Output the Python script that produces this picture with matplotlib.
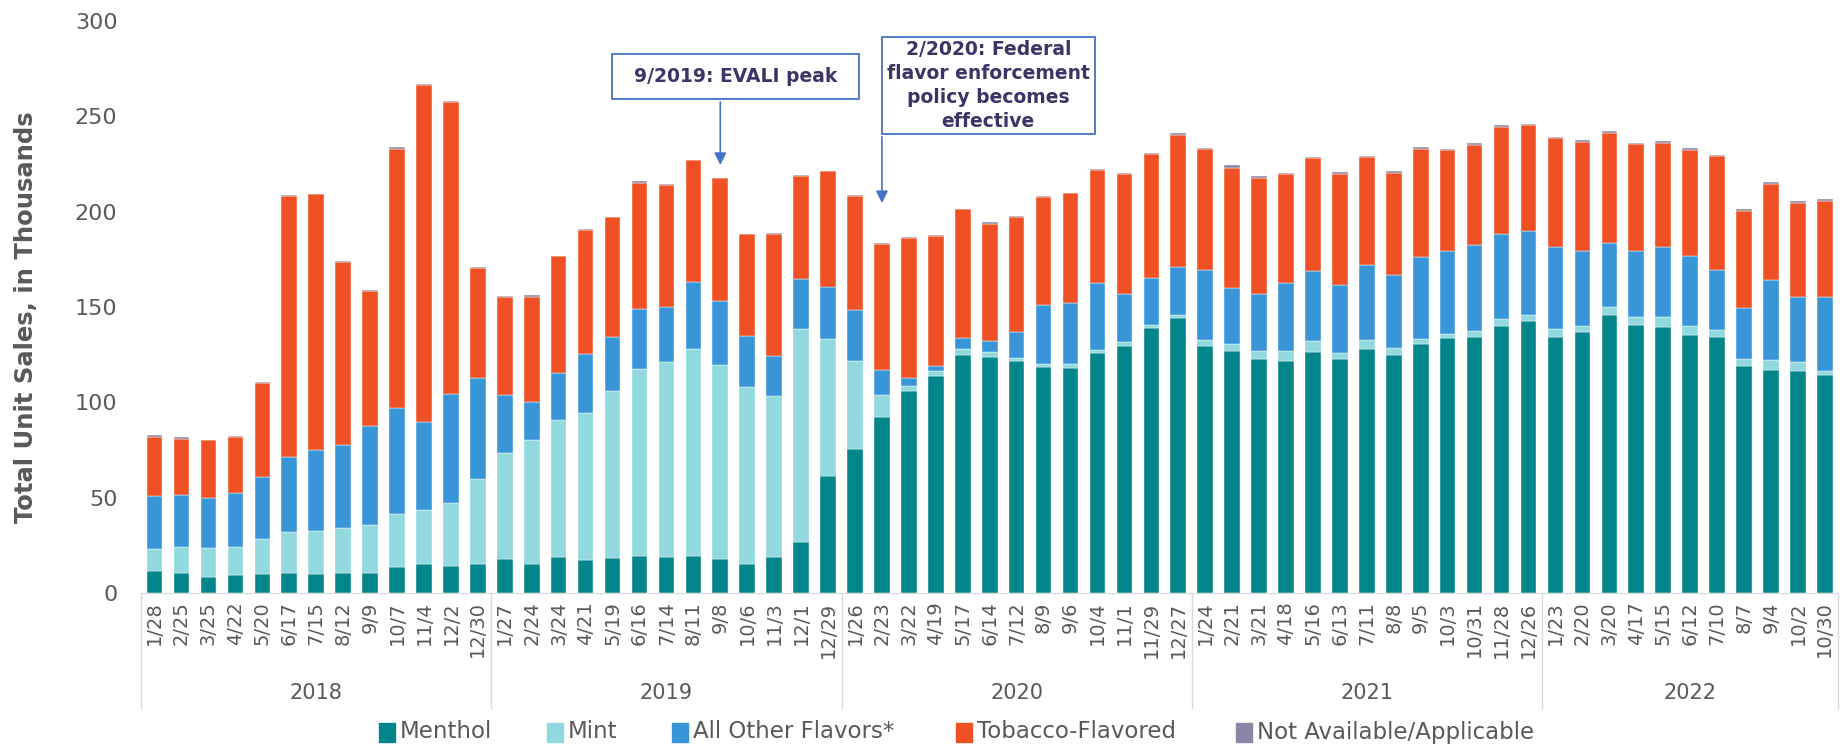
import matplotlib
matplotlib.use("Agg")
import matplotlib.pyplot as plt
from matplotlib.patches import Rectangle
import numpy as np

# week labels, grouped by year
years = ["2018", "2019", "2020", "2021", "2022"]
weeks_2018 = ["1/28", "2/25", "3/25", "4/22", "5/20", "6/17", "7/15", "8/12", "9/9", "10/7", "11/4", "12/2", "12/30"]
weeks_2019 = ["1/27", "2/24", "3/24", "4/21", "5/19", "6/16", "7/14", "8/11", "9/8", "10/6", "11/3", "12/1", "12/29"]
weeks_2020 = ["1/26", "2/23", "3/22", "4/19", "5/17", "6/14", "7/12", "8/9", "9/6", "10/4", "11/1", "11/29", "12/27"]
weeks_2021 = ["1/24", "2/21", "3/21", "4/18", "5/16", "6/13", "7/11", "8/8", "9/5", "10/3", "10/31", "11/28", "12/26"]
weeks_2022 = ["1/23", "2/20", "3/20", "4/17", "5/15", "6/12", "7/10", "8/7", "9/4", "10/2", "10/30"]
week_groups = [weeks_2018, weeks_2019, weeks_2020, weeks_2021, weeks_2022]

# unit sales, thousands
menthol = [11.4, 10.6, 8.5, 9.4, 9.8, 10.4, 10.0, 10.4, 10.6, 13.5, 15.4, 14.4, 15.4,
           17.9, 15.2, 18.9, 17.5, 18.3, 19.3, 18.7, 19.3, 17.9, 15.4, 19.1, 26.8, 61.6,
           75.7, 92.2, 106.1, 113.8, 125.0, 124.0, 121.7, 118.4, 118.0, 125.9, 129.6, 139.0, 144.4,
           129.8, 127.1, 122.7, 121.5, 126.4, 122.5, 128.1, 124.8, 130.4, 133.6, 134.2, 140.2, 142.9,
           134.4, 137.1, 145.8, 140.6, 139.6, 135.4, 134.0, 119.0, 116.9, 116.5, 114.4]
mint = [11.7, 13.5, 15.0, 14.9, 18.5, 21.6, 22.7, 23.9, 25.0, 28.1, 28.1, 32.8, 44.5,
        55.5, 64.9, 71.6, 76.7, 87.6, 98.2, 102.2, 108.6, 101.9, 92.8, 84.3, 111.7, 71.7,
        46.2, 11.8, 2.7, 2.5, 3.1, 2.3, 1.5, 1.6, 2.2, 1.6, 2.3, 1.4, 1.2,
        3.1, 3.3, 4.4, 5.2, 6.0, 3.6, 4.4, 3.6, 2.7, 2.0, 3.1, 3.3, 2.7,
        3.9, 3.1, 4.0, 4.4, 5.0, 4.6, 3.9, 3.9, 5.4, 4.4, 2.1]
other_flavors = [27.7, 27.1, 26.4, 28.3, 32.7, 39.4, 42.2, 43.1, 52.2, 55.3, 46.0, 57.4, 53.1,
                 30.2, 20.2, 25.0, 31.0, 28.3, 31.2, 29.3, 35.2, 33.5, 26.8, 21.0, 26.3, 27.3,
                 26.6, 12.9, 4.0, 2.5, 5.5, 6.0, 13.5, 31.0, 31.8, 35.0, 25.0, 24.8, 25.4,
                 36.4, 29.8, 29.8, 35.8, 36.5, 35.5, 39.5, 38.2, 43.3, 43.5, 45.1, 44.8, 44.3,
                 42.9, 39.1, 33.7, 34.5, 36.8, 36.8, 31.4, 26.7, 42.0, 34.5, 38.9]
tobacco = [31.0, 29.7, 30.2, 29.2, 49.3, 136.8, 134.1, 96.3, 70.7, 136.1, 177.0, 153.1, 57.4,
           51.8, 55.1, 61.1, 65.4, 62.8, 66.4, 63.7, 63.9, 64.1, 53.1, 64.1, 54.0, 60.5,
           59.9, 66.2, 73.4, 68.4, 67.6, 61.4, 60.3, 56.6, 57.7, 59.3, 62.6, 64.9, 69.3,
           63.3, 62.8, 60.5, 57.2, 59.0, 58.1, 56.6, 53.9, 56.6, 53.1, 52.7, 56.3, 55.4,
           57.4, 57.2, 57.8, 56.0, 54.7, 55.6, 59.7, 50.9, 50.4, 49.3, 50.1]
not_available = [1.0, 1.1, 0.3, 0.3, 0.3, 0.4, 0.4, 0.3, 0.3, 1.0, 0.4, 0.4, 0.3,
                 0.3, 0.8, 0.3, 0.3, 0.3, 0.9, 0.6, 0.3, 0.3, 0.3, 0.3, 0.3, 0.3,
                 0.3, 0.3, 0.3, 0.3, 0.3, 0.8, 0.8, 0.8, 0.3, 0.8, 0.8, 0.8, 1.0,
                 1.0, 1.3, 1.2, 0.8, 0.8, 1.0, 0.7, 0.8, 0.8, 0.8, 0.8, 0.9, 0.8,
                 0.4, 0.9, 1.1, 0.3, 0.8, 0.8, 0.9, 1.1, 0.8, 1.0, 1.1]

series_names = ["Menthol", "Mint", "All Other Flavors*", "Tobacco-Flavored", "Not Available/Applicable"]
colors = ["#02868B", "#91D9DE", "#3896D8", "#F05124", "#8C86A6"]

week_labels = [w for g in week_groups for w in g]
x = np.arange(len(week_labels))

fig = plt.figure(figsize=(18.42, 7.46), dpi=100)
ax = fig.add_axes([0.0766, 0.205, 0.9214, 0.767])

bottom = np.zeros(len(x))
for vals, c in zip([menthol, mint, other_flavors, tobacco, not_available], colors):
    ax.bar(x, vals, 0.58, bottom=bottom, color=c, edgecolor="white", linewidth=0.3)
    bottom += np.array(vals)

ax.set_xlim(-0.5, len(x) - 0.5)
ax.set_ylim(0, 300)
ax.set_yticks(range(0, 301, 50))
ax.tick_params(axis="y", length=0, labelsize=16, labelcolor="#595959", pad=17)
ax.set_xticks(x)
ax.set_xticklabels(week_labels, rotation=90, fontsize=14, color="#595959")
ax.tick_params(axis="x", length=0, pad=6)
for s in ["top", "right", "left"]:
    ax.spines[s].set_visible(False)
ax.spines["bottom"].set_color("#D9D9D9")

ax.set_ylabel("Total Unit Sales, in Thousands", fontsize=17.5, fontweight="bold", color="#595959")
ax.yaxis.set_label_coords(-0.061, 0.483)

# year group separators and labels
trans = ax.get_xaxis_transform()
edges = [-0.5]
for g in week_groups:
    edges.append(edges[-1] + len(g))
for e in edges:
    ax.plot([e, e], [0, -0.2], transform=trans, color="#D9D9D9", lw=1, clip_on=False)
for i, yr in enumerate(years):
    ax.text((edges[i] + edges[i + 1]) / 2, -0.175, yr, transform=trans, ha="center", va="center",
            fontsize=15, color="#595959")

# annotations
box_col = "#4472C4"
txt_col = "#3B3466"
ax.add_patch(Rectangle((16.97, 259), 9.18, 23.7, fill=False, ec=box_col, lw=1.3, clip_on=False))
ax.text(21.56, 270.8, "9/2019: EVALI peak", ha="center", va="center", fontsize=13.5,
        fontweight="bold", color=txt_col)
ax.annotate("", xy=(21, 223), xytext=(21, 259),
            arrowprops=dict(arrowstyle="-|>", color=box_col, lw=1.2, mutation_scale=18))

ax.add_patch(Rectangle((27.0, 240.7), 7.9, 50.9, fill=False, ec=box_col, lw=1.3, clip_on=False))
ax.text(30.95, 266.2, "2/2020: Federal\nflavor enforcement\npolicy becomes\neffective",
        ha="center", va="center", fontsize=13.5, fontweight="bold", color=txt_col, linespacing=1.32)
ax.annotate("", xy=(27, 203), xytext=(27, 240.7),
            arrowprops=dict(arrowstyle="-|>", color=box_col, lw=1.2, mutation_scale=18))

# legend along the bottom
leg_x = [379, 547, 672, 956, 1236]
for px, name, c in zip(leg_x, series_names, colors):
    fig.add_artist(Rectangle((px / 1842, 4 / 746), 16 / 1842, 19 / 746, color=c,
                             transform=fig.transFigure))
    fig.text((px + 21) / 1842, 14 / 746, name, ha="left", va="center", fontsize=16.5,
             color="#595959")

fig.savefig("out.png", dpi=100)
